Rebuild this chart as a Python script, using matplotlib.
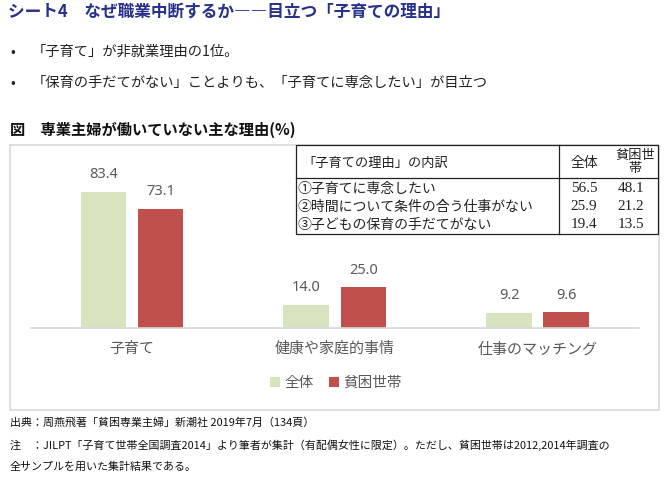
import numpy as np
import matplotlib
matplotlib.use('Agg')
import matplotlib.pyplot as plt
from matplotlib.patches import Rectangle
from matplotlib.lines import Line2D

plt.rcParams['font.family'] = ['Noto Sans CJK JP', 'DejaVu Sans']

# ---------------- data ----------------
categories = ['子育て', '健康や家庭的事情', '仕事のマッチング']
series_names = ['全体', '貧困世帯']
all_vals = [83.4, 14.0, 9.2]
poor_vals = [73.1, 25.0, 9.6]
colors = ['#d7e4bd', '#c0504d']

table_header = ['「子育ての理由」の内訳', '全体', '貧困世\n帯']
table_items = ['①子育てに専念したい', '②時間について条件の合う仕事がない', '③子どもの保育の手だてがない']
table_all = ['56.5', '25.9', '19.4']
table_poor = ['48.1', '21.2', '13.5']

title = 'シート4　なぜ職業中断するか――目立つ「子育ての理由」'
bullets = ['「子育て」が非就業理由の1位。',
           '「保育の手だてがない」ことよりも、「子育てに専念したい」が目立つ']
fig_title = '図　専業主婦が働いていない主な理由(%)'
notes = ['出典：周燕飛著「貧困専業主婦」新潮社 2019年7月（134頁）',
         '注　：JILPT「子育て世帯全国調査2014」より筆者が集計（有配偶女性に限定）。ただし、貧困世帯は2012,2014年調査の',
         '全サンプルを用いた集計結果である。']

W, H = 670, 480
fig = plt.figure(figsize=(W / 100, H / 100), dpi=100)


def fx(px):
    return px / W


def fy(py):
    return 1 - py / H


# ---------------- header texts ----------------
fig.text(fx(8), fy(12), title, fontsize=12, fontweight='bold', color='#27318b', va='center')
for i, b in enumerate(bullets):
    y = 52 + i * 31
    fig.text(fx(10), fy(y), '•', fontsize=10, va='center', color='#222222')
    fig.text(fx(32), fy(y), b, fontsize=10.3, va='center', color='#222222')
fig.text(fx(10), fy(130), fig_title, fontsize=11, fontweight='bold', va='center', color='#111111')

# chart frame
fig.patches.append(Rectangle((fx(10), fy(410)), fx(649), (410 - 145) / H,
                             transform=fig.transFigure, fill=False,
                             ec='#d9d9d9', lw=1.2, zorder=0))

# ---------------- bars ----------------
ax = fig.add_axes([fx(30.6), fy(328), fx(639 - 30.6), (328 - 150) / H])
x = np.arange(len(categories))
bw, off = 0.224, 0.141
b1 = ax.bar(x - off, all_vals, bw, color=colors[0], label=series_names[0])
b2 = ax.bar(x + off, poor_vals, bw, color=colors[1], label=series_names[1])
for bars in (b1, b2):
    for r in bars:
        ax.annotate(f'{r.get_height():.1f}', (r.get_x() + r.get_width() / 2, r.get_height()),
                    xytext=(0, 7), textcoords='offset points', ha='center', va='bottom',
                    fontsize=10.5, color='#595959', family=['Noto Sans', 'DejaVu Sans'])
ax.set_xlim(-0.5, 2.5)
ax.set_ylim(0, (328 - 150) / 1.63)
ax.set_xticks(x)
ax.set_xticklabels(categories, fontsize=10.8, color='#595959')
ax.tick_params(axis='x', length=0, pad=10)
ax.set_yticks([])
for s in ['top', 'right', 'left']:
    ax.spines[s].set_visible(False)
ax.spines['bottom'].set_color('#d9d9d9')
ax.spines['bottom'].set_linewidth(1.2)
ax.patch.set_alpha(0)

leg = fig.legend(handles=[b1, b2], labels=series_names, loc='center',
                 bbox_to_anchor=(fx(336), fy(383)), ncol=2, frameon=False,
                 fontsize=10.5, handlelength=0.7, handleheight=0.7,
                 handletextpad=0.3, columnspacing=1.0)
for t in leg.get_texts():
    t.set_color('#595959')

# ---------------- inset table ----------------
tl, tr, tt, tb = 296, 658, 145, 234
fig.patches.append(Rectangle((fx(tl), fy(tb)), fx(tr - tl), (tb - tt) / H,
                             transform=fig.transFigure, fc='white',
                             ec='#222222', lw=0.9, zorder=5))
fig.lines.append(Line2D([fx(tl), fx(tr)], [fy(178), fy(178)], transform=fig.transFigure,
                        color='#222222', lw=0.9, zorder=6))
fig.lines.append(Line2D([fx(559), fx(559)], [fy(tt), fy(tb)], transform=fig.transFigure,
                        color='#222222', lw=0.9, zorder=6))
fig.text(fx(302), fy(163), table_header[0], fontsize=9.5, va='center', color='#222222', zorder=7)
fig.text(fx(584), fy(163), table_header[1], fontsize=10, va='center', ha='center', color='#222222', zorder=7)
fig.text(fx(635), fy(162), table_header[2], fontsize=9.5, va='center', ha='center',
         color='#222222', linespacing=1.0, zorder=7)
for i, (item, a, p) in enumerate(zip(table_items, table_all, table_poor)):
    y = 189 + i * 18
    fig.text(fx(298), fy(y), item, fontsize=10, va='center', color='#222222', zorder=7)
    fig.text(fx(584), fy(y), a, fontsize=11, va='center', ha='center',
             family=['Liberation Serif'], color='#222222', zorder=7)
    fig.text(fx(631), fy(y), p, fontsize=11, va='center', ha='center',
             family=['Liberation Serif'], color='#222222', zorder=7)

# ---------------- notes ----------------
for i, n in enumerate(notes):
    fig.text(fx(10), fy(423 + i * 22), n, fontsize=7.9, va='center', color='#111111')

fig.savefig('out.png', dpi=100)
